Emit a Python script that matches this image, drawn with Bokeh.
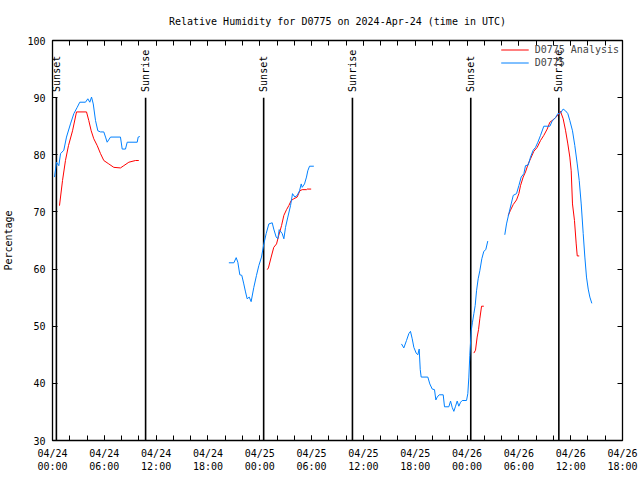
import math
from bokeh.plotting import figure
from bokeh.models import Range1d, LinearAxis, FixedTicker, Legend, LegendItem
from bokeh.embed import file_html
from bokeh.resources import INLINE
from bokeh.core.properties import value

NaN = float("nan")
FONT = "DejaVu Sans Mono"

chart_title = "Relative Humidity for D0775 on 2024-Apr-24 (time in UTC)"
y_title = "Percentage"
series_names = ["D0775 Analysis", "D0775"]

# hours since 2024-04-24 00:00 UTC; NaN separates data gaps
obs_hours = [0.23, 0.46, 0.73, 0.93, 1.31, 1.62, 2.08, 2.47, 2.86, 3.16, 3.82, 4.09, 4.32, 4.52, 4.72, 4.98,
             5.25, 5.56, 5.94, 6.14, 6.33, 6.72, 7.87, 8.07, 8.45, 8.65, 9.81, 9.92, 10.11, NaN,
             20.42, 21.0, 21.27, 21.46, 21.69, 21.92, 22.15, 22.35, 22.54, 22.78, 23.0, 23.31, 23.62, 23.89,
             24.2, 24.47, 24.74, 25.05, 25.44, 25.62, 25.9, 26.09, 26.25, 26.6, 26.79, 26.98, 27.25, 27.56,
             27.79, 28.06, 28.33, 28.6, 28.8, 28.91, 29.18, 29.41, 29.56, 29.76, 30.26, NaN,
             40.41, 40.68, 40.99, 41.26, 41.45, 41.65, 41.84, 42.11, 42.3, 42.46, 42.58, 42.69, 43.46, 43.69,
             43.97, 44.23, 44.39, 44.55, 44.78, 45.24, 45.39, 45.89, 46.09, 46.28, 46.47, 46.67, 46.86, 47.05,
             47.25, 47.44, 47.94, 48.09, 48.21, 48.32, 48.48, 48.63, 48.79, 48.94, 49.1, 49.29, 49.48, 49.71,
             49.94, 50.17, 50.4, NaN,
             52.37, 52.57, 52.84, 53.11, 53.35, 53.73, 54.0, 54.27, 54.58, 54.77, 55.08, 55.35, 55.66, 55.93,
             56.2, 56.51, 56.89, 57.59, 57.86, 58.24, 58.51, 58.82, 59.13, 59.4, 59.67, 59.9, 60.21, 60.48,
             60.76, 60.99, 61.22, 61.45, 61.64, 61.83, 62.03, 62.22, 62.45]
obs_rh = [76.1, 78.7, 78.1, 80.2, 80.8, 83.1, 85.4, 87.2, 88.3, 89.2, 89.2, 89.8, 89.2, 90.1, 88.9, 86.0,
          84.2, 84.0, 84.0, 83.1, 82.2, 83.1, 83.1, 81.0, 81.0, 82.2, 82.2, 83.1, 83.2, NaN,
          61.1, 61.1, 62.0, 61.2, 59.0, 58.9, 57.4, 56.0, 54.8, 55.1, 54.3, 56.8, 58.9, 60.6,
          62.1, 64.4, 66.2, 67.9, 68.1, 67.0, 65.6, 65.3, 66.9, 66.2, 65.3, 67.3, 69.1, 71.1,
          73.2, 72.6, 72.9, 73.7, 74.9, 74.3, 74.9, 76.1, 77.2, 78.0, 78.0, NaN,
          46.9, 46.2, 47.5, 48.7, 49.1, 47.8, 46.3, 45.3, 45.0, 46.0, 42.4, 41.1, 41.1, 39.9,
          39.0, 38.9, 37.1, 37.6, 38.0, 38.0, 35.9, 35.9, 36.9, 35.8, 35.1, 36.0, 36.9, 36.0,
          36.7, 37.0, 37.0, 38.2, 41.1, 44.9, 49.2, 50.7, 52.2, 53.6, 56.2, 58.3, 59.7, 61.8,
          63.1, 63.4, 64.9, NaN,
          66.0, 67.9, 69.7, 71.4, 72.9, 73.2, 74.6, 76.1, 76.7, 78.1, 78.2, 79.6, 80.8, 81.3,
          82.2, 83.4, 85.0, 85.0, 85.9, 86.5, 87.2, 87.3, 88.0, 87.7, 87.2, 86.0, 84.2, 81.6,
          78.4, 75.5, 71.4, 66.2, 62.1, 58.6, 56.5, 55.1, 54.0]

ana_hours = [0.81, 1.16, 1.5, 1.85, 2.32, 2.78, 3.94, 4.2, 4.48, 4.78, 5.18, 5.56, 5.94, 6.52, 7.1, 7.87,
             8.26, 8.84, 9.61, 9.99, NaN,
             24.86, 25.0, 25.32, 25.62, 25.94, 26.2, 26.52, 26.79, 27.1, 27.36, 27.64, 27.94, 28.33, 28.64,
             28.91, 29.41, 29.49, 29.95, NaN,
             48.79, 48.98, 49.17, 49.33, 49.48, 49.68, 49.94, NaN,
             52.77, 53.03, 53.35, 53.73, 54.0, 54.19, 54.5, 54.77, 55.08, 55.35, 55.73, 56.12, 56.51, 56.89,
             57.28, 57.59, 57.86, 58.24, 58.51, 58.82, 59.13, 59.4, 59.67, 59.9, 60.06, 60.21, 60.44, 60.64,
             60.76, 60.99]
ana_rh = [71.1, 75.5, 79.0, 81.6, 84.2, 87.5, 87.5, 86.0, 84.2, 82.8, 81.6, 80.2, 79.0, 78.4, 77.8, 77.7,
          78.1, 78.7, 79.0, 79.0, NaN,
          59.9, 60.2, 62.1, 63.8, 64.4, 65.9, 67.6, 69.4, 70.4, 71.1, 72.0, 72.3, 72.6, 73.7,
          73.9, 73.9, 74.0, 74.0, NaN,
          45.3, 45.8, 48.1, 49.4, 51.3, 53.5, 53.5, NaN,
          69.4, 70.3, 71.3, 72.1, 73.2, 74.6, 76.1, 77.0, 78.4, 79.3, 80.6, 81.3, 82.5, 83.4,
          84.5, 85.7, 86.0, 86.5, 86.9, 87.6, 86.3, 84.3, 81.9, 79.6, 77.2, 71.4, 68.5, 64.4,
          62.3, 62.3]

event_hours = [0.45, 10.78, 24.45, 34.73, 48.43, 58.63]
event_names = ["Sunset", "Sunrise", "Sunset", "Sunrise", "Sunset", "Sunrise"]
event_top = 90

x_minor_ticks = list(range(0, 67, 2))
x_major_ticks = [0, 6, 12, 18, 24, 30, 36, 42, 48, 54, 60, 66]
x_tick_labels = ["04/24\n00:00", "04/24\n06:00", "04/24\n12:00", "04/24\n18:00",
                 "04/25\n00:00", "04/25\n06:00", "04/25\n12:00", "04/25\n18:00",
                 "04/26\n00:00", "04/26\n06:00", "04/26\n12:00", "04/26\n18:00"]
y_ticks = [30, 40, 50, 60, 70, 80, 90, 100]

p = figure(width=640, height=480, output_backend="svg", toolbar_location=None,
           x_range=Range1d(0, 66), y_range=Range1d(30, 100),
           x_axis_location=None, y_axis_location=None,
           min_border_left=52, min_border_right=18, min_border_top=40, min_border_bottom=40,
           background_fill_color="white", border_fill_color="white")
p.outline_line_color = "black"
p.outline_line_width = 1.3
p.grid.visible = False

p.title.text = chart_title
p.title.align = "center"
p.title.vertical_align = "top"
p.title.text_font = FONT
p.title.text_font_size = "10px"
p.title.text_font_style = "normal"
p.title.text_color = "black"
p.title.standoff = 24

bottom_axis = LinearAxis()
left_axis = LinearAxis()
top_axis = LinearAxis()
right_axis = LinearAxis()
p.add_layout(bottom_axis, "below")
p.add_layout(left_axis, "left")
p.add_layout(top_axis, "above")
p.add_layout(right_axis, "right")

for ax in [bottom_axis, top_axis]:
    ax.ticker = FixedTicker(ticks=x_major_ticks, minor_ticks=x_minor_ticks)
for ax in [left_axis, right_axis]:
    ax.ticker = FixedTicker(ticks=y_ticks, minor_ticks=[])

for ax in [bottom_axis, top_axis, left_axis, right_axis]:
    ax.axis_line_color = None
    ax.major_tick_in = 5
    ax.major_tick_out = 0
    ax.minor_tick_in = 5
    ax.minor_tick_out = 0
    ax.major_tick_line_color = "black"
    ax.minor_tick_line_color = "black"
    ax.major_label_text_font = FONT
    ax.major_label_text_font_size = "10px"
    ax.major_label_text_color = "black"

top_axis.major_label_overrides = {t: "" for t in x_major_ticks}
right_axis.major_label_overrides = {t: "" for t in y_ticks}
top_axis.major_label_standoff = 0
right_axis.major_label_standoff = 0

bottom_axis.major_label_overrides = {t: lab for t, lab in zip(x_major_ticks, x_tick_labels)}
bottom_axis.major_label_standoff = 7
left_axis.major_label_standoff = 7
left_axis.axis_label = y_title
left_axis.axis_label_text_font = FONT
left_axis.axis_label_text_font_size = "10px"
left_axis.axis_label_text_font_style = "normal"
left_axis.axis_label_text_color = "black"
left_axis.axis_label_standoff = 10

# sunrise / sunset markers
p.segment(x0=event_hours, y0=[30] * len(event_hours), x1=event_hours, y1=[event_top] * len(event_hours),
          line_color="black", line_width=1.6)
p.text(x=event_hours, y=[event_top + 1] * len(event_hours), text=event_names, angle=math.pi / 2,
       text_align="left", text_baseline="middle", text_font=value(FONT), text_font_size="10px",
       text_color="black")

r_ana = p.line(ana_hours, ana_rh, line_color="#ff0000", line_width=1)
r_obs = p.line(obs_hours, obs_rh, line_color="#0080ff", line_width=1)

legend = Legend(items=[LegendItem(label=series_names[0], renderers=[r_ana]),
                       LegendItem(label=series_names[1], renderers=[r_obs])],
                location="top_right", border_line_color=None, background_fill_alpha=0,
                label_text_font=FONT, label_text_font_size="10px", glyph_width=28, glyph_height=13,
                label_height=13, spacing=0, padding=2, margin=3, label_standoff=6)
p.add_layout(legend)

open("out.html", "w").write(file_html(p, INLINE))
